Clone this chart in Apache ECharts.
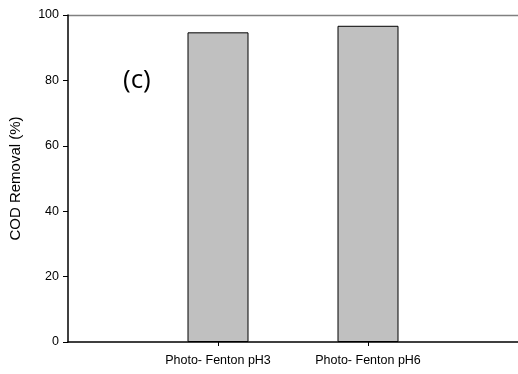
<!DOCTYPE html>
<html><head><meta charset="utf-8">
<script src="https://cdn.jsdelivr.net/npm/echarts@6/dist/echarts.min.js"></script>
<style>html,body{margin:0;padding:0;background:#fff}#c{width:518px;height:374px}</style>
</head><body><div id="c"></div>
<script>
const categories = ['', 'Photo- Fenton pH3', 'Photo- Fenton pH6', ''];
const codRemoval = [null, 94.7, 96.7, null];
const yTicks = [0, 20, 40, 60, 80, 100];

const chart = echarts.init(document.getElementById('c'));
chart.setOption({
  animation: false,
  grid: {left: 68, right: 0, top: 15, bottom: 32, containLabel: false},
  graphic: [
    {type: 'text', left: 123, top: 68, style: {text: '(c)', font: '26px "Open Sans", sans-serif', fill: '#000'}},
    {type: 'line', shape: {x1: 68, y1: 15.5, x2: 518, y2: 15.5}, style: {stroke: '#808080', lineWidth: 1.5}}
  ],
  xAxis: {
    type: 'category', data: categories, boundaryGap: false,
    axisLine: {lineStyle: {color: '#000', width: 1.5}},
    axisTick: {show: true, length: 4, interval: (i) => i === 1 || i === 2, lineStyle: {color: '#000'}},
    axisLabel: {interval: (i) => i === 1 || i === 2, color: '#000', fontFamily: 'Liberation Sans, Arial', fontSize: 12.5, margin: 12},
    splitLine: {show: false}
  },
  yAxis: {
    type: 'value', min: 0, max: 100, interval: 20,
    name: 'COD Removal (%)', nameLocation: 'middle', nameGap: 45, nameRotate: 90,
    nameTextStyle: {color: '#000', fontFamily: 'Liberation Sans, Arial', fontSize: 15},
    axisLine: {show: true, lineStyle: {color: '#000', width: 1.5}},
    axisTick: {show: true, length: 5, inside: false, lineStyle: {color: '#000'}},
    axisLabel: {color: '#000', fontFamily: 'Liberation Sans, Arial', fontSize: 12.5, margin: 9,
      formatter: (v) => yTicks.includes(v) ? String(v) : ''},
    splitLine: {show: false}
  },
  series: [{
    type: 'bar', data: codRemoval, barWidth: 61,
    itemStyle: {color: '#c0c0c0', borderColor: '#000', borderWidth: 1}
  }]
});
</script></body></html>
